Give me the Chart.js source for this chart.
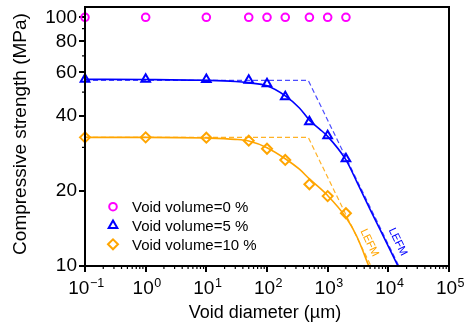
<!DOCTYPE html>
<html>
<head>
<meta charset="utf-8">
<script src="https://cdn.jsdelivr.net/npm/chart.js@4.4.0/dist/chart.umd.min.js"></script>
<style>
  html, body { margin: 0; padding: 0; background: #fff; }
</style>
</head>
<body>
<canvas id="strengthChart" width="464" height="331"></canvas>
<script>
// void diameters tested (µm) and measured strengths (MPa)
const diameters = [0.1, 1, 10, 50, 100, 200, 500, 1000, 2000];
const strength0 = [100, 100, 100, 100, 100, 100, 100, 100, 100];
const strength5 = [56.3, 56.3, 56.2, 55.8, 54.1, 47.9, 38.0, 33.4, 27.0];
const strength10 = [32.9, 32.9, 32.8, 31.9, 29.6, 26.7, 21.3, 19.1, 16.3];

// solid fitted curves
const fit5X = [0.1, 1, 10, 30, 50, 100, 200, 342, 500, 730, 1000, 2000, 3000, 5000, 10000, 15000];
const fit5Y = [56.3, 56.2, 55.8, 55.2, 54.5, 53.0, 48.3, 43.2, 38.6, 35.6, 33.2, 26.7, 21.9, 16.9, 12.0, 9.8];
const fit10X = [0.1, 1, 10, 30, 50, 100, 200, 342, 500, 1000, 2000, 3000, 5000];
const fit10Y = [32.9, 32.9, 32.7, 32.3, 31.8, 29.9, 27.0, 24.5, 22.4, 19.2, 15.7, 13.2, 9.7];

// dashed LEFM lines (plateau then -1/2 slope)
const lefm5X = [0.1, 478, 14900];
const lefm5Y = [55.8, 55.8, 10];
const lefm10X = [0.1, 478, 5170];
const lefm10Y = [32.9, 32.9, 10];

// axes
const xTickExponents = [-1, 0, 1, 2, 3, 4, 5];
const yTicks = [10, 20, 40, 60, 80, 100];
const yMinorTicks = [30, 50, 70, 90];

const FONT = "'Liberation Sans', Arial, Helvetica, sans-serif";
const BLUE = '#0000ff';
const ORANGE = '#ffa500';
const MAGENTA = '#ff00ff';

const pts = (xs, ys) => xs.map((x, i) => ({ x: x, y: ys[i] }));

const decorations = {
  id: 'decorations',
  afterDraw(chart) {
    const { ctx, chartArea: a, scales: { x, y } } = chart;
    ctx.save();

    // frame around plot
    ctx.strokeStyle = '#000';
    ctx.lineWidth = 2;
    ctx.strokeRect(a.left, a.top, a.right - a.left, a.bottom - a.top);

    // minor ticks
    ctx.lineWidth = 1.2;
    ctx.beginPath();
    for (let e = -1; e < 5; e++) {
      for (let k = 2; k < 10; k++) {
        const px = x.getPixelForValue(k * Math.pow(10, e));
        ctx.moveTo(px, a.bottom);
        ctx.lineTo(px, a.bottom + 3);
      }
    }
    yMinorTicks.forEach(v => {
      const py = y.getPixelForValue(v);
      ctx.moveTo(a.left - 3, py);
      ctx.lineTo(a.left, py);
    });
    ctx.stroke();

    // x tick labels with superscripts
    ctx.fillStyle = '#000';
    ctx.textBaseline = 'alphabetic';
    ctx.textAlign = 'left';
    xTickExponents.forEach(e => {
      const px = x.getPixelForValue(Math.pow(10, e));
      const sup = String(e).replace('-', '\u2212');
      ctx.font = '19px ' + FONT;
      const wBase = ctx.measureText('10').width;
      ctx.font = '12.5px ' + FONT;
      const wSup = ctx.measureText(sup).width;
      const x0 = px - (wBase + wSup) / 2 + 1;
      ctx.font = '19px ' + FONT;
      ctx.fillText('10', x0, 294);
      ctx.font = '12.5px ' + FONT;
      ctx.fillText(sup, x0 + wBase + 0.5, 287);
    });

    // axis titles
    ctx.font = '18px ' + FONT;
    ctx.textAlign = 'center';
    ctx.fillText('Void diameter (\u00b5m)', 265, 318);
    ctx.save();
    ctx.translate(26, 134);
    ctx.rotate(-Math.PI / 2);
    ctx.font = '19px ' + FONT;
    ctx.fillText('Compressive strength (MPa)', 0, 0);
    ctx.restore();

    // legend inside the plot
    ctx.font = '15px ' + FONT;
    ctx.textAlign = 'left';
    [0, 1, 2].forEach((i, row) => {
      const ds = chart.data.datasets[i];
      const cy = 206.7 + row * 18.8;
      ctx.strokeStyle = ds.borderColor;
      ctx.fillStyle = 'rgba(0,0,0,0)';
      ctx.lineWidth = 2;
      Chart.helpers.drawPoint(ctx, {
        pointStyle: ds.pointStyle, radius: ds.pointRadius, rotation: 0, borderWidth: 2
      }, 113, cy);
      ctx.fillStyle = '#000';
      ctx.fillText(ds.label, 132, cy + 5.2);
    });

    // LEFM labels along the dashed lines
    const dx = x.getPixelForValue(1e4) - x.getPixelForValue(1e3);
    const dy = y.getPixelForValue(10) - y.getPixelForValue(10 * Math.sqrt(10));
    const ang = Math.atan2(dy, dx);
    ctx.font = '11px ' + FONT;
    ctx.textAlign = 'center';
    ctx.textBaseline = 'middle';
    [[14300, 12.5, BLUE], [4860, 12.4, ORANGE]].forEach(([vx, vy, col]) => {
      ctx.save();
      ctx.translate(x.getPixelForValue(vx), y.getPixelForValue(vy));
      ctx.rotate(ang);
      ctx.fillStyle = col;
      ctx.fillText('LEFM', 0, 0);
      ctx.restore();
    });

    ctx.restore();
  }
};

new Chart(document.getElementById('strengthChart'), {
  type: 'scatter',
  data: {
    datasets: [
      {
        label: 'Void volume=0 %', data: pts(diameters, strength0),
        pointStyle: 'circle', pointRadius: 3.8, borderWidth: 2,
        borderColor: MAGENTA, backgroundColor: 'rgba(0,0,0,0)', clip: false
      },
      {
        label: 'Void volume=5 %', data: pts(diameters, strength5),
        pointStyle: 'triangle', pointRadius: 5, borderWidth: 2,
        borderColor: BLUE, backgroundColor: 'rgba(0,0,0,0)', clip: false
      },
      {
        label: 'Void volume=10 %', data: pts(diameters, strength10),
        pointStyle: 'rectRot', pointRadius: 5, borderWidth: 2,
        borderColor: ORANGE, backgroundColor: 'rgba(0,0,0,0)', clip: false
      },
      {
        label: 'fit 5', data: pts(fit5X, fit5Y), showLine: true, pointRadius: 0,
        borderColor: BLUE, borderWidth: 1.6, cubicInterpolationMode: 'monotone'
      },
      {
        label: 'fit 10', data: pts(fit10X, fit10Y), showLine: true, pointRadius: 0,
        borderColor: ORANGE, borderWidth: 1.6, cubicInterpolationMode: 'monotone'
      },
      {
        label: 'LEFM 5', data: pts(lefm5X, lefm5Y), showLine: true, pointRadius: 0,
        borderColor: 'rgba(0,0,255,0.7)', borderWidth: 1.2, borderDash: [5, 3]
      },
      {
        label: 'LEFM 10', data: pts(lefm10X, lefm10Y), showLine: true, pointRadius: 0,
        borderColor: 'rgba(255,165,0,0.85)', borderWidth: 1.2, borderDash: [5, 3]
      }
    ]
  },
  options: {
    responsive: false,
    animation: false,
    events: [],
    layout: { padding: { top: 6, right: 15, left: 0, bottom: 0 } },
    plugins: { legend: { display: false }, tooltip: { enabled: false } },
    scales: {
      x: {
        type: 'logarithmic', min: 0.1, max: 1e5,
        afterBuildTicks: s => { s.ticks = xTickExponents.map(e => ({ value: Math.pow(10, e) })); },
        afterFit: s => { s.height = 65; s.paddingLeft = 0; s.paddingRight = 0; },
        ticks: { display: false, autoSkip: false },
        grid: { drawOnChartArea: false, drawTicks: true, tickLength: 6, color: '#000', lineWidth: 2 },
        border: { display: true, color: '#000', width: 2 }
      },
      y: {
        type: 'logarithmic', min: 10, max: 110,
        afterBuildTicks: s => { s.ticks = yTicks.map(v => ({ value: v })); },
        afterFit: s => { s.width = 85; s.paddingTop = 0; s.paddingBottom = 0; },
        ticks: {
          autoSkip: false, padding: 2, color: '#000',
          font: { family: FONT, size: 19 },
          callback: v => String(v)
        },
        grid: { drawOnChartArea: false, drawTicks: true, tickLength: 6, color: '#000', lineWidth: 2 },
        border: { display: true, color: '#000', width: 2 }
      }
    }
  },
  plugins: [decorations]
});
</script>
</body>
</html>
